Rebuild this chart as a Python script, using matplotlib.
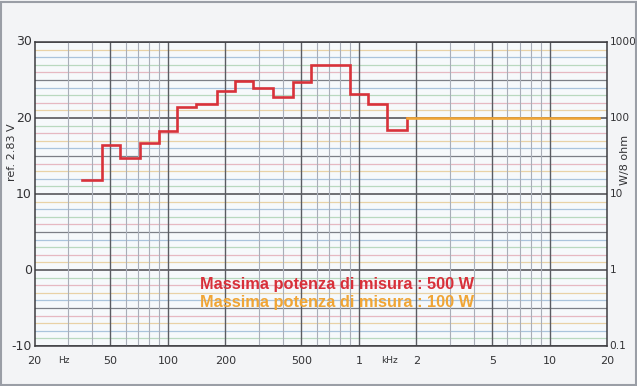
import matplotlib
matplotlib.use("Agg")
import matplotlib.pyplot as plt
import numpy as np
from matplotlib.patches import Rectangle

# Data: band edges (Hz) and levels (dB ref 2.83 V)
red_edges = [35.5, 45, 56, 71, 90, 112, 140, 180, 224, 280, 355, 450, 560, 710, 900, 1120, 1400, 1780]
red_levels = [11.8, 16.4, 14.8, 16.7, 18.3, 21.4, 21.9, 23.6, 24.9, 24.0, 22.8, 24.7, 27.0, 27.0, 23.2, 21.9, 18.4]
orange_edges = [1780, 18000]
orange_levels = [20.0, 20.0]

xticks = [20, 50, 100, 200, 500, 1000, 2000, 5000, 10000, 20000]
xticklabels = ["20", "50", "100", "200", "500", "1", "2", "5", "10", "20"]
yticks = [-10, 0, 10, 20, 30]
rticklabels = ["0.1", "1", "10", "100", "1000"]

W, H = 637, 386
fig = plt.figure(figsize=(W / 100, H / 100), dpi=100, facecolor="#f3f4f6")
ax = fig.add_axes([34.5 / W, 1 - 346 / H, (607.3 - 34.5) / W, (346 - 42) / H])
ax.set_facecolor("#f6f9fb")
ax.set_xscale("log")
ax.set_xlim(20, 20000)
ax.set_ylim(-10, 30)

# horizontal grid
pastel = ["#e6b9c2", "#b9d9bf", "#aac4dc", "#e9d2a6"]
for i, y in enumerate(range(-10, 31)):
    if y % 10 == 0:
        ax.axhline(y, color="#4a4a4e", lw=1.1, zorder=1)
    elif y % 5 == 0:
        ax.axhline(y, color="#7c7f86", lw=0.9, zorder=1)
    else:
        ax.axhline(y, color=pastel[i % 4], lw=0.9, zorder=1)

# vertical grid
dark_f = [50, 100, 200, 500, 1000, 2000, 5000, 10000]
light_f = []
for dec in [10, 100, 1000, 10000]:
    for k in range(2, 10):
        f = k * dec
        if 20 < f < 20000 and f not in dark_f:
            light_f.append(f)
for f in light_f:
    ax.axvline(f, color="#a9aeb8", lw=0.8, zorder=1)
for f in dark_f:
    ax.axvline(f, color="#5a5c62", lw=1.0, zorder=1)

# red step curve
xs, ys = [], []
for i, lv in enumerate(red_levels):
    xs += [red_edges[i], red_edges[i + 1]]
    ys += [lv, lv]
xs.append(red_edges[-1])
ys.append(orange_levels[0])
ax.plot(xs, ys, color="#d8323a", lw=1.9, zorder=3, solid_joinstyle="miter")
ax.plot(orange_edges, orange_levels, color="#f0a535", lw=1.9, zorder=3)

for s in ax.spines.values():
    s.set_color("#3c3c40")
    s.set_linewidth(1.1)

ax.set_xticks([])
ax.set_yticks([])
ax.minorticks_off()
ax.tick_params(which="both", length=0)

txt = "#333336"
for f, lab in zip(xticks, xticklabels):
    ax.text(f, -11.3, lab, ha="center", va="top", fontsize=8, color=txt)
ax.text(28.5, -11.3, "Hz", ha="center", va="top", fontsize=6.5, color=txt)
ax.text(1450, -11.3, "kHz", ha="center", va="top", fontsize=6.5, color=txt)

ytr = ax.get_yaxis_transform()
for y in yticks:
    ax.text(-0.005, y, str(y), ha="right", va="center", fontsize=9, color=txt, transform=ytr)
for y, lab in zip(yticks, rticklabels):
    ax.text(1.004, y, lab, ha="left", va="center", fontsize=7.6, color=txt, transform=ytr)
ax.text(-0.039, 15.5, "ref. 2.83 V", rotation=90, ha="center", va="center",
        fontsize=8, color=txt, transform=ytr)
ax.text(1.031, 14.5, "W/8 ohm", rotation=90, ha="center", va="center",
        fontsize=8, color=txt, transform=ytr)

ax.text(147, -1.9, "Massima potenza di misura : 500 W", color="#d8303a", fontsize=11.8,
        fontweight="bold", family="Liberation Sans", ha="left", va="center", zorder=4)
ax.text(147, -4.3, "Massima potenza di misura : 100 W", color="#f0a535", fontsize=11.8,
        fontweight="bold", family="Liberation Sans", ha="left", va="center", zorder=4)

# outer frame
fig.patches.append(Rectangle((0.0015, 0.0015), 0.997, 0.993, transform=fig.transFigure,
                             fill=False, edgecolor="#9a9ea6", lw=1.5))

fig.savefig("out.png", dpi=100, facecolor=fig.get_facecolor())
